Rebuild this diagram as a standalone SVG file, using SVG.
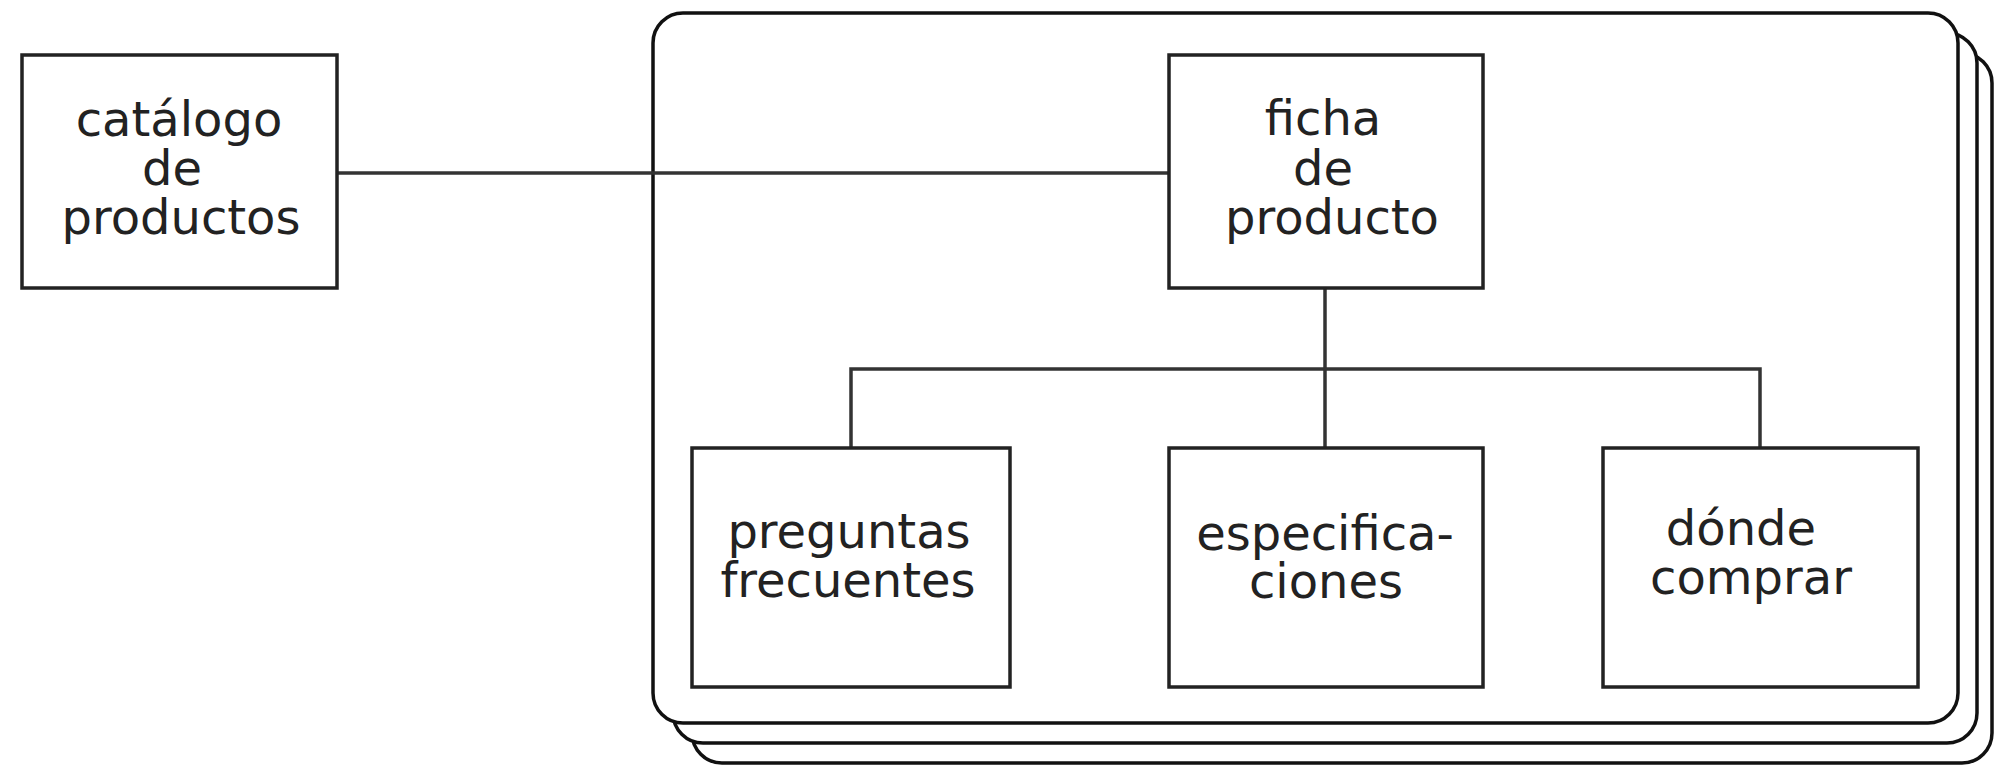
<svg xmlns="http://www.w3.org/2000/svg" width="1995" height="769" viewBox="0 0 1995 769">
<style>
.frame{fill:#fff;stroke:#111;stroke-width:3.5}
.box{fill:#fff;stroke:#222;stroke-width:3.5}
.conn{fill:none;stroke:#333;stroke-width:3.5}
.t{font-family:"DejaVu Sans","Liberation Sans",sans-serif;font-size:48px;fill:#222;text-anchor:middle}
</style>
<g id="container">
<rect class="frame" x="692" y="53" width="1300" height="710" rx="30"/>
<rect class="frame" x="673" y="33" width="1304" height="710" rx="30"/>
<rect class="frame" x="653" y="13" width="1305" height="710" rx="30"/>
</g>
<g id="connectors">
<path class="conn" d="M337 173 H1169"/>
<path class="conn" d="M1325 288 V448"/>
<path class="conn" d="M851 448 V369 H1760 V448"/>
</g>
<g id="catalogo">
<rect class="box" x="22" y="55" width="315" height="233"/>
<text class="t" x="179" y="136">catálogo</text>
<text class="t" x="172" y="185">de</text>
<text class="t" x="181" y="234">productos</text>
</g>
<g id="ficha">
<rect class="box" x="1169" y="55" width="314" height="233"/>
<text class="t" x="1323" y="135">ficha</text>
<text class="t" x="1323" y="185">de</text>
<text class="t" x="1332" y="234">producto</text>
</g>
<g id="preguntas">
<rect class="box" x="692" y="448" width="318" height="239"/>
<text class="t" x="849" y="548">preguntas</text>
<text class="t" x="848" y="597">frecuentes</text>
</g>
<g id="especificaciones">
<rect class="box" x="1169" y="448" width="314" height="239"/>
<text class="t" x="1325" y="550">especifica-</text>
<text class="t" x="1326" y="598">ciones</text>
</g>
<g id="donde">
<rect class="box" x="1603" y="448" width="315" height="239"/>
<text class="t" x="1741" y="545">dónde</text>
<text class="t" x="1751" y="594">comprar</text>
</g>
</svg>
